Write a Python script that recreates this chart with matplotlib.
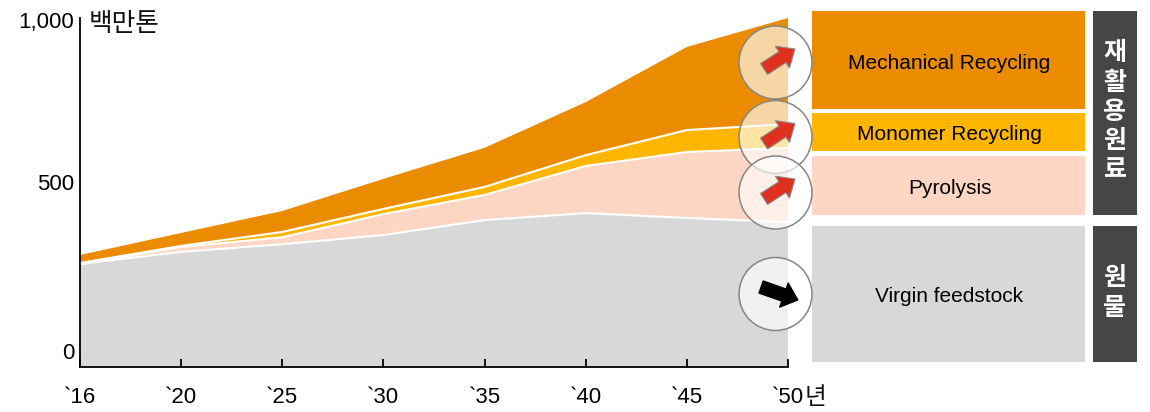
import matplotlib
matplotlib.use('Agg')
import matplotlib.pyplot as plt
from matplotlib.patches import Rectangle, Circle, FancyArrow
from matplotlib.transforms import ScaledTranslation

plt.rcParams['font.family'] = ['Liberation Sans', 'Noto Sans CJK KR', 'DejaVu Sans']

# data (million tons)
years = ['`16', '`20', '`25', '`30', '`35', '`40', '`45', '`50']
virgin = [295, 330, 352, 378, 421, 441, 427, 415]
pyrolysis = [0, 14, 20, 60, 72, 135, 189, 213]
monomer = [3, 3, 15, 15, 23, 31, 63, 68]
mechanical = [23, 37, 60, 86, 112, 152, 238, 304]
y_ticks = [0, 500, 1000]
y_labels = ['0', '500', '1,000']
panel_names = ['Mechanical Recycling', 'Monomer Recycling', 'Pyrolysis', 'Virgin feedstock']

ORANGE = '#EB8C00'
YELLOW = '#FFB600'
PEACH = '#FED6C3'
GRAY = '#D8D8D8'
DARK = '#464646'
RED = '#E0301E'

W, H = 1150, 412
fig = plt.figure(figsize=(W / 100, H / 100), dpi=100)

# main chart, pixel box x 80-788, y 18-367
ax = fig.add_axes([80 / W, 1 - 367 / H, (788 - 80) / W, (367 - 18) / H])
x = list(range(len(years)))
ax.stackplot(x, virgin, pyrolysis, monomer, mechanical,
             colors=[GRAY, PEACH, YELLOW, ORANGE], linewidth=0)

# white separators between the layers
top = [0] * len(x)
for layer in [virgin, pyrolysis, monomer]:
    top = [a + b for a, b in zip(top, layer)]
    ax.plot(x, top, color='white', lw=1.5, solid_capstyle='butt')

ax.set_xlim(0, len(years) - 1)
ax.set_ylim(0, 1000)
ax.spines['top'].set_visible(False)
ax.spines['right'].set_visible(False)
ax.spines['left'].set_linewidth(1.3)
ax.spines['bottom'].set_linewidth(1.3)
ax.set_xticks(x, years, fontsize=16)
ax.tick_params(axis='x', direction='in', length=5.5, width=1.3, pad=14.5)
ax.set_yticks(y_ticks, y_labels, fontsize=16)
ax.tick_params(axis='y', length=0, pad=4)

# the y labels sit above their value in the original
for label, shift in zip(ax.get_yticklabels(), [16, 11, -2]):
    label.set_transform(label.get_transform() + ScaledTranslation(0, shift / 100, fig.dpi_scale_trans))

# everything else is placed in pixels on an overlay
ov = fig.add_axes([0, 0, 1, 1], facecolor='none')
ov.set_xlim(0, W)
ov.set_ylim(H, 0)
ov.axis('off')

ov.text(89, 24, '백만톤', fontsize=18.5, va='center', ha='left', family=['Noto Sans CJK KR'], color='#111111')
ov.text(805, 397, '년', fontsize=17, va='center', ha='left', family=['Noto Sans CJK KR'], color='#111111')

# legend panels
panels = [(11, 109, ORANGE), (113, 151, YELLOW), (156, 215, PEACH), (226, 362, GRAY)]
for (y0, y1, col), name in zip(panels, panel_names):
    ov.add_patch(Rectangle((812, y0), 273, y1 - y0, facecolor=col, linewidth=0))
    ov.text(949.5, (y0 + y1) / 2 + 3, name, ha='center', va='center', fontsize=15, color='black')

# dark side boxes
for y0, y1, label in [(11, 215, '재\n활\n용\n원\n료'), (226, 362, '원\n물')]:
    ov.add_patch(Rectangle((1093, y0), 44, y1 - y0, facecolor=DARK, linewidth=0))
    ov.text(1115, (y0 + y1) / 2 - 1, label, ha='center', va='center', ma='center', color='white',
            fontsize=18, fontweight='bold', linespacing=1.28, family=['Noto Sans CJK KR'])

# trend circles and arrows
for cy, col, edge, dx, dy in [(62.5, RED, '#8a8a8a', 31, -20), (137, RED, '#8a8a8a', 31, -20),
                              (192.5, RED, '#8a8a8a', 31, -20), (294, 'black', 'black', 37, 13)]:
    ov.add_patch(Circle((775.5, cy), 36.5, facecolor=(1, 1, 1, 0.65), edgecolor='#858585', linewidth=1.1))
    if col == RED:
        sx, sy = 764, cy + 6.5
    else:
        sx, sy = 761, cy - 7
    ov.add_patch(FancyArrow(sx, sy, dx, dy, width=13, head_width=26, head_length=15,
                            length_includes_head=True, facecolor=col, edgecolor=edge, linewidth=0.8))

fig.savefig('out.png', dpi=100)
